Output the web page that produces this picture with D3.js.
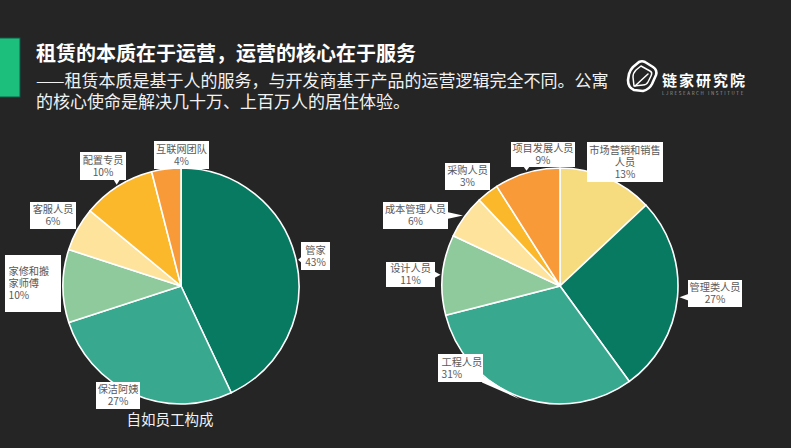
<!DOCTYPE html>
<html><head><meta charset="utf-8">
<script src="https://cdn.jsdelivr.net/npm/d3@7/dist/d3.min.js"></script>
<style>
html,body{margin:0;padding:0;background:#252525;}
svg{display:block;}
text{font-family:"Noto Sans CJK SC","Noto Sans",sans-serif;}
</style></head>
<body>
<svg id="c" width="791" height="448"></svg>
<script>
// ---- data ----
const leftCategories = ["管家","保洁阿姨","家修和搬家师傅","客服人员","配置专员","互联网团队"];
const leftValues = [43,27,10,6,10,4];
const rightCategories = ["市场营销和销售人员","管理类人员","工程人员","设计人员","成本管理人员","采购人员","项目发展人员"];
const rightValues = [13,27,31,11,6,3,9];
const leftTitle = "自如员工构成";
const title = "租赁的本质在于运营，运营的核心在于服务";
const subtitleLines = ["——租赁本质是基于人的服务，与开发商基于产品的运营逻辑完全不同。公寓","的核心使命是解决几十万、上百万人的居住体验。"];

// ---- styles / layout (separate from data) ----
const leftColors = ["#077a61","#38a88e","#8fca9c","#fde39c","#fbb82b","#f99a38"];
const rightColors = ["#f6dc7e","#077a61","#38a88e","#8fca9c","#fde39c","#fbb82b","#f99a38"];
const leftLabelLayout = [
  {lines:["管家"], cx:315.5, cy:256, w:29, h:28},
  {lines:["保洁阿姨"], cx:118, cy:395.5, w:44, h:27},
  {lines:["家修和搬","家师傅"], cx:33, cy:283.5, w:56, h:57, left:true},
  {lines:["客服人员"], cx:53, cy:215.5, w:46, h:27},
  {lines:["配置专员"], cx:103, cy:166, w:46, h:28},
  {lines:["互联网团队"], cx:181.5, cy:155, w:55, h:28}
];
const rightLabelLayout = [
  {lines:["市场营销和销售","人员"], cx:625, cy:162, w:76, h:40},
  {lines:["管理类人员"], cx:715, cy:293.5, w:54, h:27},
  {lines:["工程人员"], cx:460.5, cy:368, w:45, h:28, left:true},
  {lines:["设计人员"], cx:410.5, cy:274.5, w:49, h:25},
  {lines:["成本管理人员"], cx:415.5, cy:215.5, w:65, h:27},
  {lines:["采购人员"], cx:467.5, cy:176.5, w:45, h:27},
  {lines:["项目发展人员"], cx:543, cy:154.5, w:64, h:25}
];

const svg = d3.select("#c");
svg.append("rect").attr("width",791).attr("height",448).attr("fill","#252525");

// header
svg.append("rect").attr("x",-1).attr("y",38).attr("width",21).attr("height",59)
  .attr("fill","#1cbf7b").attr("stroke","#11594a").attr("stroke-width",1);
svg.append("text").attr("x",36).attr("y",61).attr("fill","#ffffff")
  .attr("font-size",20).attr("font-weight","bold").text(title);
subtitleLines.forEach((t,i)=>{
  svg.append("text").attr("x",36).attr("y",87+i*21).attr("fill","#f2f2f2")
    .attr("font-size",17).text(t);
});

// logo
const logo = svg.append("g").attr("fill","none").attr("stroke","#ffffff").attr("stroke-linejoin","round").attr("stroke-linecap","round");
logo.append("path")
  .attr("d","M634,90 C629,88 628,84 628,80 L629,74 C630,71 631,69 633,67 L639,62 C641,61 643,61 645,62 L653,67 C656,69 657,72 656,75 L652,84 C650,88 647,90 643,91 Z")
  .attr("stroke-width",2.6);
logo.append("path")
  .attr("d","M634,86 L633,77 C633,74 634,72 636,70 L641,66 L650,71 C652,72 652,74 651,76 L648,82 C647,84 645,85 643,85 Z")
  .attr("stroke-width",1.5);
logo.append("path").attr("d","M635,86 L648,74").attr("stroke-width",1.5);
svg.append("text").attr("x",662).attr("y",86).attr("fill","#ffffff")
  .attr("font-size",15).attr("font-weight","bold").attr("letter-spacing",2).text("链家研究院");
svg.append("text").attr("x",662).attr("y",94.5).attr("fill","#9a9a9a")
  .attr("font-size",4.5).attr("letter-spacing",1.6).text("LJRESEARCH INSTITUTE");

function drawPie(cx, cy, r, cats, vals, colors, layout){
  const g = svg.append("g").attr("transform",`translate(${cx},${cy})`);
  const pie = d3.pie().sort(null).value(d=>d).startAngle(0).endAngle(2*Math.PI);
  const arcs = pie(vals);
  const arc = d3.arc().innerRadius(0).outerRadius(r);
  g.selectAll("path.s").data(arcs).join("path").attr("class","s")
    .attr("d",arc).attr("fill",(d,i)=>colors[i])
    .attr("stroke","#ffffff").attr("stroke-width",1.6).attr("stroke-linejoin","round");
  const total = d3.sum(vals);
  const fmt = d3.format(".0%");
  arcs.forEach((d,i)=>{
    const L = layout[i];
    const mid = (d.startAngle+d.endAngle)/2;
    const tip = [cx + (r+2)*Math.sin(mid), cy - (r+2)*Math.cos(mid)];
    const x0 = L.cx - L.w/2, x1 = L.cx + L.w/2, y0 = L.cy - L.h/2, y1 = L.cy + L.h/2;
    const inside = tip[0]>x0-2 && tip[0]<x1+2 && tip[1]>y0-2 && tip[1]<y1+2;
    if(!inside){
      const bx = Math.max(x0+3, Math.min(x1-3, tip[0]));
      const by = Math.max(y0+3, Math.min(y1-3, tip[1]));
      let pts;
      const dx = tip[0]<x0 ? x0-tip[0] : (tip[0]>x1 ? tip[0]-x1 : 0);
      const dy = tip[1]<y0 ? y0-tip[1] : (tip[1]>y1 ? tip[1]-y1 : 0);
      if(dx>=dy){
        const ex = tip[0]<x0 ? x0+1 : x1-1;
        pts = [[ex,by-3.5],[tip[0],tip[1]],[ex,by+3.5]];
      } else {
        const ey = tip[1]<y0 ? y0+1 : y1-1;
        pts = [[bx-3.5,ey],[tip[0],tip[1]],[bx+3.5,ey]];
      }
      svg.append("polygon").attr("points",pts.map(p=>p.join(",")).join(" ")).attr("fill","#ffffff");
    }
    svg.append("rect").attr("x",x0).attr("y",y0).attr("width",L.w).attr("height",L.h)
      .attr("fill","#ffffff");
    const lines = L.lines.concat([fmt(d.data/total)]);
    const lh = 12;
    const startY = L.cy - (lines.length-1)*lh/2 + 3.6;
    const t = svg.append("text")
      .attr("text-anchor", L.left ? "start" : "middle")
      .attr("font-size",10.2).attr("fill","#595959");
    lines.forEach((s,k)=>{
      t.append("tspan")
        .attr("x", L.left ? x0+3.5 : L.cx)
        .attr("y", startY + k*lh)
        .text(s);
    });
  });
}

drawPie(181, 286, 118, leftCategories, leftValues, leftColors, leftLabelLayout);
drawPie(560, 286, 118, rightCategories, rightValues, rightColors, rightLabelLayout);

svg.append("text").attr("x",170).attr("y",425).attr("text-anchor","middle")
  .attr("fill","#f2f2f2").attr("font-size",14.5).text(leftTitle);
</script>
</body></html>
